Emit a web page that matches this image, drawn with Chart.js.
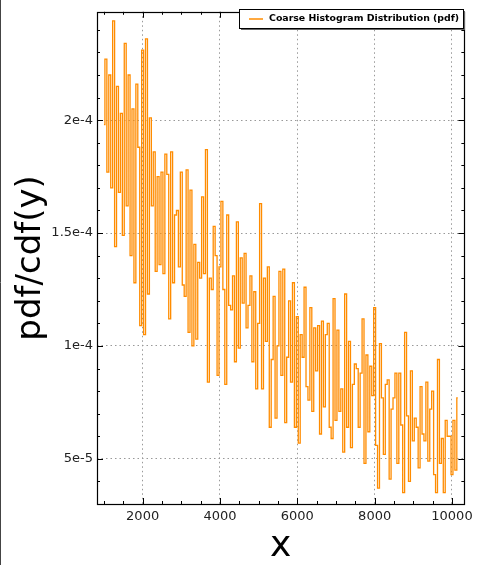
<!DOCTYPE html>
<html>
<head>
<meta charset="utf-8">
<script src="https://cdn.jsdelivr.net/npm/chart.js@4/dist/chart.umd.min.js"></script>
<style>
  html, body { margin: 0; padding: 0; background: #fff; }
  #wrap { width: 478px; height: 565px; }
</style>
</head>
<body>
<div id="wrap"><canvas id="pdfChart" width="478" height="565"></canvas></div>
<script>
// bin positions (x) of the coarse histogram
const binX = [
  1000, 1050, 1100, 1150, 1200, 1250, 1300, 1350, 1400, 1450,
  1500, 1550, 1600, 1650, 1700, 1750, 1800, 1850, 1900, 1950,
  2000, 2050, 2100, 2150, 2200, 2250, 2300, 2350, 2400, 2450,
  2500, 2550, 2600, 2650, 2700, 2750, 2800, 2850, 2900, 2950,
  3000, 3050, 3100, 3150, 3200, 3250, 3300, 3350, 3400, 3450,
  3500, 3550, 3600, 3650, 3700, 3750, 3800, 3850, 3900, 3950,
  4000, 4050, 4100, 4150, 4200, 4250, 4300, 4350, 4400, 4450,
  4500, 4550, 4600, 4650, 4700, 4750, 4800, 4850, 4900, 4950,
  5000, 5050, 5100, 5150, 5200, 5250, 5300, 5350, 5400, 5450,
  5500, 5550, 5600, 5650, 5700, 5750, 5800, 5850, 5900, 5950,
  6000, 6050, 6100, 6150, 6200, 6250, 6300, 6350, 6400, 6450,
  6500, 6550, 6600, 6650, 6700, 6750, 6800, 6850, 6900, 6950,
  7000, 7050, 7100, 7150, 7200, 7250, 7300, 7350, 7400, 7450,
  7500, 7550, 7600, 7650, 7700, 7750, 7800, 7850, 7900, 7950,
  8000, 8050, 8100, 8150, 8200, 8250, 8300, 8350, 8400, 8450,
  8500, 8550, 8600, 8650, 8700, 8750, 8800, 8850, 8900, 8950,
  9000, 9050, 9100, 9150, 9200, 9250, 9300, 9350, 9400, 9450,
  9500, 9550, 9600, 9650, 9700, 9750, 9800, 9850, 9900, 9950,
  10000, 10050, 10100, 10150
];

// pdf value of each bin
const pdfValues = [
  19.8e-5, 22.7e-5, 17.7e-5, 22.0e-5, 17.0e-5, 24.4e-5, 14.4e-5, 21.5e-5, 16.8e-5, 20.3e-5,
  14.9e-5, 23.4e-5, 16.2e-5, 22.0e-5, 14.0e-5, 20.5e-5, 12.8e-5, 21.6e-5, 18.8e-5, 10.9e-5,
  23.1e-5, 10.5e-5, 23.6e-5, 12.3e-5, 20.1e-5, 16.2e-5, 18.6e-5, 13.3e-5, 17.5e-5, 13.6e-5,
  17.7e-5, 13.2e-5, 18.5e-5, 17.6e-5, 11.2e-5, 18.6e-5, 12.8e-5, 15.8e-5, 16.0e-5, 13.5e-5,
  17.7e-5, 12.7e-5, 12.2e-5, 17.8e-5, 10.6e-5, 16.9e-5, 10.0e-5, 14.5e-5, 10.3e-5, 13.7e-5,
  13.0e-5, 16.6e-5, 13.2e-5, 18.7e-5, 8.4e-5, 13.0e-5, 12.5e-5, 15.3e-5, 14.0e-5, 8.7e-5,
  13.5e-5, 16.4e-5, 12.5e-5, 8.3e-5, 15.8e-5, 11.8e-5, 11.6e-5, 13.1e-5, 9.3e-5, 15.5e-5,
  9.9e-5, 13.9e-5, 11.9e-5, 14.1e-5, 10.8e-5, 11.8e-5, 13.1e-5, 9.3e-5, 12.4e-5, 8.1e-5,
  11.0e-5, 16.3e-5, 8.1e-5, 13.0e-5, 10.2e-5, 13.5e-5, 6.4e-5, 9.4e-5, 12.2e-5, 6.8e-5,
  10.0e-5, 13.3e-5, 8.7e-5, 13.4e-5, 6.6e-5, 9.5e-5, 12.0e-5, 8.4e-5, 12.8e-5, 6.4e-5,
  11.3e-5, 5.7e-5, 10.5e-5, 9.5e-5, 12.6e-5, 8.2e-5, 7.6e-5, 11.7e-5, 7.1e-5, 10.8e-5,
  8.9e-5, 10.9e-5, 6.1e-5, 11.1e-5, 7.3e-5, 10.5e-5, 11.0e-5, 6.4e-5, 5.9e-5, 12.1e-5,
  6.7e-5, 10.7e-5, 7.1e-5, 8.1e-5, 5.3e-5, 12.3e-5, 6.4e-5, 10.2e-5, 5.5e-5, 8.3e-5,
  9.2e-5, 9.0e-5, 6.4e-5, 8.8e-5, 11.2e-5, 4.8e-5, 9.6e-5, 6.2e-5, 9.1e-5, 7.8e-5,
  11.7e-5, 5.6e-5, 3.7e-5, 10.1e-5, 7.7e-5, 5.2e-5, 8.3e-5, 8.5e-5, 4.1e-5, 7.2e-5,
  7.7e-5, 8.8e-5, 4.8e-5, 8.8e-5, 6.5e-5, 3.5e-5, 10.6e-5, 6.9e-5, 4.0e-5, 8.9e-5,
  5.8e-5, 6.8e-5, 6.4e-5, 4.6e-5, 8.2e-5, 6.1e-5, 5.8e-5, 8.4e-5, 4.9e-5, 7.2e-5,
  8.0e-5, 4.3e-5, 3.5e-5, 9.4e-5, 4.8e-5, 5.9e-5, 3.5e-5, 6.7e-5, 6.0e-5, 6.0e-5,
  4.3e-5, 6.7e-5, 4.5e-5, 7.7e-5
];

// x tick marks (every 500), labelled ones, y labelled ticks
const xTickValues = [
  1000, 1500, 2000, 2500, 3000, 3500, 4000, 4500, 5000, 5500,
  6000, 6500, 7000, 7500, 8000, 8500, 9000, 9500, 10000
];
const xMajorTicks = [2000, 4000, 6000, 8000, 10000];
const yMajorTicks = [5e-5, 1e-4, 1.5e-4, 2e-4];
const yTickLabels = ['5e-5', '1e-4', '1.5e-4', '2e-4'];
const seriesLabel = 'Coarse Histogram Distribution (pdf)';

const ORANGE = '#ff8c00';
const FONT = 'DejaVu Sans';

function xMajorIndex(v) {
  return xMajorTicks.findIndex(t => Math.abs(t - v) < 1);
}
function yMajorIndex(v) {
  return yMajorTicks.findIndex(t => Math.abs(t - v) < 1e-9);
}

// frame, inward ticks on all four sides, legend box with shadow
const framePlugin = {
  id: 'frame',
  afterDatasetsDraw(chart) {
    const ctx = chart.ctx;
    const a = chart.chartArea;
    const xs = chart.scales.x, ys = chart.scales.y;
    ctx.save();
    ctx.strokeStyle = '#000';
    ctx.lineWidth = 1;
    xs.ticks.forEach(t => {
      const px = Math.round(xs.getPixelForValue(t.value)) + 0.5;
      const len = xMajorIndex(t.value) >= 0 ? 6 : 3;
      ctx.beginPath();
      ctx.moveTo(px, a.bottom); ctx.lineTo(px, a.bottom - len);
      ctx.moveTo(px, a.top); ctx.lineTo(px, a.top + len);
      ctx.stroke();
    });
    ys.ticks.forEach(t => {
      const py = Math.round(ys.getPixelForValue(t.value)) + 0.5;
      const len = yMajorIndex(t.value) >= 0 ? 6 : 3;
      ctx.beginPath();
      ctx.moveTo(a.left, py); ctx.lineTo(a.left + len, py);
      ctx.moveTo(a.right, py); ctx.lineTo(a.right - len, py);
      ctx.stroke();
    });
    ctx.lineWidth = 1.2;
    ctx.strokeRect(Math.round(a.left) + 0.5, Math.round(a.top) + 0.5,
      Math.round(a.right - a.left), Math.round(a.bottom - a.top));
    ctx.restore();
  },
  afterDraw(chart) {
    const ctx = chart.ctx;
    ctx.save();
    // page edge line seen in the reference
    ctx.strokeStyle = '#444';
    ctx.beginPath(); ctx.moveTo(0.5, 0); ctx.lineTo(0.5, chart.height); ctx.stroke();

    const bx = 239, by = 9, bw = 224, bh = 19;
    ctx.fillStyle = '#666';
    ctx.fillRect(bx + 2, by + 2, bw, bh);
    ctx.fillStyle = '#fff';
    ctx.fillRect(bx, by, bw, bh);
    ctx.strokeStyle = '#000';
    ctx.lineWidth = 1;
    ctx.strokeRect(bx + 0.5, by + 0.5, bw, bh);
    ctx.strokeStyle = ORANGE;
    ctx.lineWidth = 1.5;
    ctx.beginPath(); ctx.moveTo(249, by + 10); ctx.lineTo(263, by + 10); ctx.stroke();
    ctx.fillStyle = '#000';
    ctx.font = 'bold 9.4px "' + FONT + '"';
    ctx.textBaseline = 'middle';
    ctx.textAlign = 'left';
    ctx.fillText(chart.data.datasets[0].label, 269, by + 10);
    ctx.restore();
  }
};

const ctx = document.getElementById('pdfChart').getContext('2d');
new Chart(ctx, {
  type: 'line',
  data: {
    datasets: [{
      label: seriesLabel,
      data: binX.map((x, i) => ({ x: x, y: pdfValues[i] })),
      borderColor: ORANGE,
      borderWidth: 1.3,
      pointRadius: 0,
      stepped: 'middle',
      fill: false
    }]
  },
  options: {
    responsive: false,
    animation: false,
    devicePixelRatio: 1,
    layout: { padding: { top: 5, right: 10, left: 0, bottom: 0 } },
    plugins: { legend: { display: false }, tooltip: { enabled: false } },
    scales: {
      x: {
        type: 'linear',
        min: 820,
        max: 10320,
        afterBuildTicks: s => { s.ticks = xTickValues.map(v => ({ value: v })); },
        afterFit: s => { s.height = 61; },
        border: { display: false, dash: [1.5, 3] },
        grid: {
          drawTicks: false,
          color: c => xMajorIndex(c.tick.value) >= 0 ? '#999' : 'rgba(0,0,0,0)'
        },
        ticks: {
          autoSkip: false,
          maxRotation: 0,
          padding: 5,
          color: '#222',
          font: { family: FONT, size: 13 },
          callback: v => { const i = xMajorIndex(v); return i >= 0 ? String(xMajorTicks[i]) : ''; }
        },
        title: {
          display: true,
          text: 'x',
          color: '#000',
          font: { family: FONT, size: 36, lineHeight: 1 },
          padding: { top: 0, bottom: 0 }
        }
      },
      y: {
        type: 'linear',
        min: 3.0e-5,
        max: 2.48e-4,
        afterFit: s => { s.width = 97; },
        border: { display: false, dash: [1.5, 3] },
        grid: {
          drawTicks: false,
          color: c => yMajorIndex(c.tick.value) >= 0 ? '#999' : 'rgba(0,0,0,0)'
        },
        ticks: {
          stepSize: 1e-5,
          includeBounds: false,
          autoSkip: false,
          padding: 4,
          color: '#222',
          font: { family: FONT, size: 13 },
          callback: v => { const i = yMajorIndex(v); return i >= 0 ? yTickLabels[i] : ''; }
        },
        title: {
          display: true,
          text: 'pdf/cdf(y)',
          color: '#000',
          font: { family: FONT, size: 34, lineHeight: 1 },
          padding: { top: 14, bottom: 0 }
        }
      }
    }
  },
  plugins: [framePlugin]
});
</script>
</body>
</html>
